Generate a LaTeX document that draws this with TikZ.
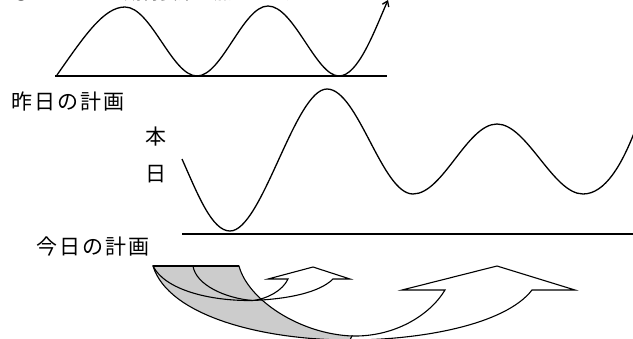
\documentclass[tikz,border=0pt]{standalone}
\usepackage{fontspec}
\usepackage{xcolor}
\usepackage{tikz}
\usetikzlibrary{arrows.meta}
\newfontfamily\jp[LetterSpace=10]{Noto Sans CJK JP}
\newfontfamily\jpplain{Noto Sans CJK JP}
\definecolor{C0}{RGB}{  0,  0,  0}
\definecolor{C1}{RGB}{204,204,204}

\begin{document}
\begin{tikzpicture}[x=1pt, y=-1pt,
    wave/.style={C0, line width=1.3pt, line join=round},
    band/.style={C0, line width=1.1pt, line join=miter},
    label/.style={font=\jp\fontsize{21}{21}\selectfont, inner sep=0pt}]

    \useasboundingbox (0,0) rectangle (633,338);

    %% --- Heading (cut at the top edge) ---
    \begin{scope}
        \clip (0,0) rectangle (633,338);
        \node[font=\jpplain\fontsize{18}{18}\selectfont, inner sep=0pt, anchor=base west]
            (heading) at (12,-1) {② これまでの期待要素を加えます。};
    \end{scope}

    %% --- Yesterday's plan ---
    \draw[wave] (55,76) -- (387,76);
    \draw[wave, -{Straight Barb[length=5pt, width=7pt]}]
        (57,75) .. controls (85,35) and (104,7) .. (125,7)
        .. controls (151,7) and (172,76) .. (197,76)
        .. controls (222,76) and (243,6) .. (268,6)
        .. controls (294,6) and (316,76) .. (339,76)
        .. controls (358,76) and (374,32) .. (388,0);

    %% Labels
    \node[label, anchor=west] (yesterday) at (11,102) {昨日の計画};
    \node[label] (hon) at (156,137) {本};
    \node[label] (jitsu) at (156,174) {日};
    \node[label, anchor=west] (today) at (36,247) {今日の計画};

    %% --- Today's plan ---
    \draw[wave] (182,234) -- (633,234);
    \draw[wave]
        (182,159) .. controls (198,195) and (212,231) .. (230,231)
        .. controls (262,231) and (295,89) .. (327,89)
        .. controls (358,89) and (382,194) .. (413,194)
        .. controls (443,194) and (467,124) .. (497,124)
        .. controls (527,124) and (553,194) .. (583,194)
        .. controls (605,194) and (622,165) .. (636,128);

    %% --- Curved arrows: back side ---
    \coordinate (tailL) at (153,266);
    \coordinate (tailM) at (193,266);
    \coordinate (tailR) at (239,266);
    \coordinate (Abot) at (252,300.5);
    \coordinate (Bin) at (352,336);
    \coordinate (Bout) at (350,340);

    \filldraw[band, fill=C1] (tailL) -- (tailR)
        .. controls (248,300) and (300,334) .. (Bin)
        -- (Bout) .. controls (260,340) and (168,315) .. (tailL) -- cycle;
    \draw[band] (tailL) .. controls (165,290) and (210,301) .. (Abot);
    \draw[band] (tailM) .. controls (196,285) and (225,298) .. (Abot);
    \draw[band, line width=1.8pt] (tailL) -- (tailR);

    %% --- Curved arrows: front side ---
    \filldraw[band, fill=white] (Abot)
        .. controls (290,299) and (320,292) .. (333,279)
        -- (350,279) -- (313,267) -- (268,279) -- (288,279)
        .. controls (283,290) and (268,299) .. (Abot) -- cycle;

    \filldraw[band, fill=white] (Bin)
        .. controls (395,337) and (430,315) .. (445,290)
        -- (402,290) -- (497,266) -- (575,290) -- (532,290)
        .. controls (505,325) and (420,340) .. (Bout) -- cycle;

\end{tikzpicture}
\end{document}
